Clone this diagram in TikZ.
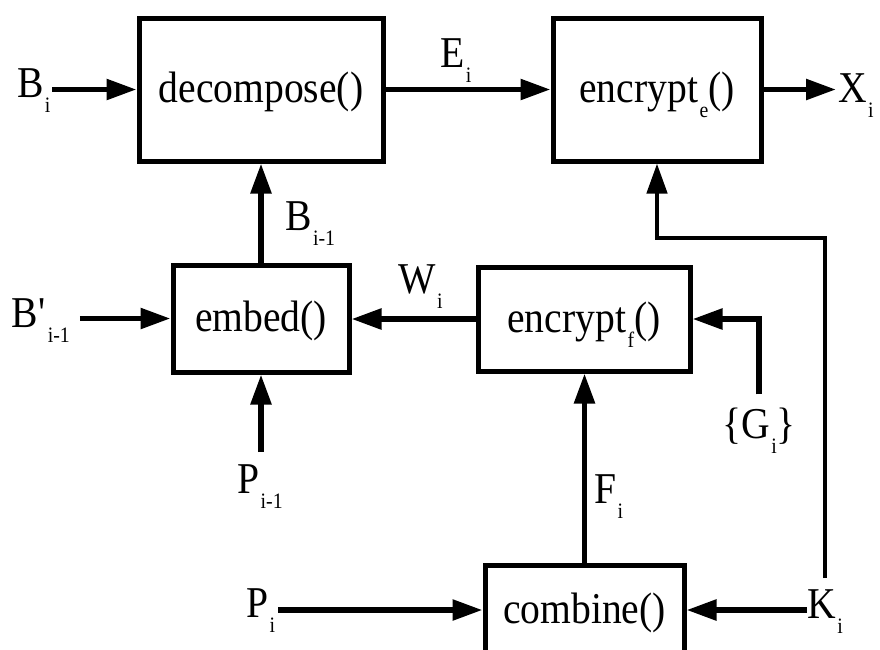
\documentclass[tikz,border=0pt]{standalone}
\usepackage{fontspec}
\setmainfont{Liberation Serif}[FakeStretch=0.9]
\usetikzlibrary{arrows.meta}

% lowered index as in B_i, encrypt_e
\newcommand{\lowsub}[1]{\kern1.5pt\raisebox{-15pt}{\fontsize{22}{22}\selectfont #1}}

\begin{document}
\begin{tikzpicture}[x=1pt, y=-1pt, font=\fontsize{44}{48}\selectfont,
    box/.style={draw, line width=5pt, inner sep=0pt, text height=30pt, text depth=4pt},
    lab/.style={inner sep=0pt, anchor=base west},
    arr/.style={line width=5.5pt, -{Triangle[length=30pt, width=20pt]}}]
    \useasboundingbox (0,0) rectangle (880,649);

    \node[box, minimum width=244pt, minimum height=143pt] (decomp) at (261, 89.5) {decompose()};
    \node[box, minimum width=208pt, minimum height=143pt] (encE) at (657, 89.5) {encrypt\lowsub{e}()};
    \node[box, minimum width=176pt, minimum height=107pt] (embed) at (261, 318.5) {embed()};
    \node[box, minimum width=212pt, minimum height=104pt] (encF) at (584, 319) {encrypt\lowsub{f}()};
    \node[box, minimum width=199pt, minimum height=90pt] (comb) at (584.5, 610) {combine()};

    \node[lab, outer xsep=2pt] (bin) at (15, 97) {B\lowsub{i}};
    \node[lab] (ei) at (440, 67) {E\lowsub{i}};
    \node[lab, outer xsep=2pt] (xout) at (836, 102) {X\lowsub{i}};
    \node[lab] (bim) at (285, 230) {B\lowsub{i-1}};
    \node[lab, outer xsep=10pt] (bpin) at (2, 327) {B\textquotesingle\lowsub{i-1}};
    \node[lab] (wi) at (398, 293) {W\lowsub{i}};
    \node[lab, outer ysep=12pt] (pim) at (237, 493) {P\lowsub{i-1}};
    \node[lab, outer ysep=13pt] (ggi) at (722, 438) {\{G\lowsub{i}\}};
    \node[lab] (fi) at (594, 503) {F\lowsub{i}};
    \node[lab, outer xsep=3pt] (pin) at (243, 617) {P\lowsub{i}};
    \node[lab, outer ysep=11pt] (kin) at (807, 618) {K\lowsub{i}};

    \draw[arr] (bin.east |- decomp) -- (decomp.west);
    \draw[arr] (decomp.east) -- (encE.west);
    \draw[arr] (encE.east) -- (xout.west |- encE);
    \draw[arr] (embed.north) -- (embed |- decomp.south);
    \draw[arr] (bpin.east |- embed) -- (embed.west);
    \draw[arr] (encF.west) -- (encF.west -| embed.east);
    \draw[arr] (pim.north -| embed) -- (embed.south);
    \draw[arr] (ggi.north) |- (encF.east);
    \draw[arr] (comb.north) -- (comb.north |- encF.south);
    \draw[arr] (pin.east |- comb) -- (comb.west);
    \draw[arr] (kin.west |- comb) -- (comb.east);
    \draw[arr, line width=4.5pt] (kin.north) -- (kin.north |- 0,238) -| (encE.south);
\end{tikzpicture}
\end{document}
